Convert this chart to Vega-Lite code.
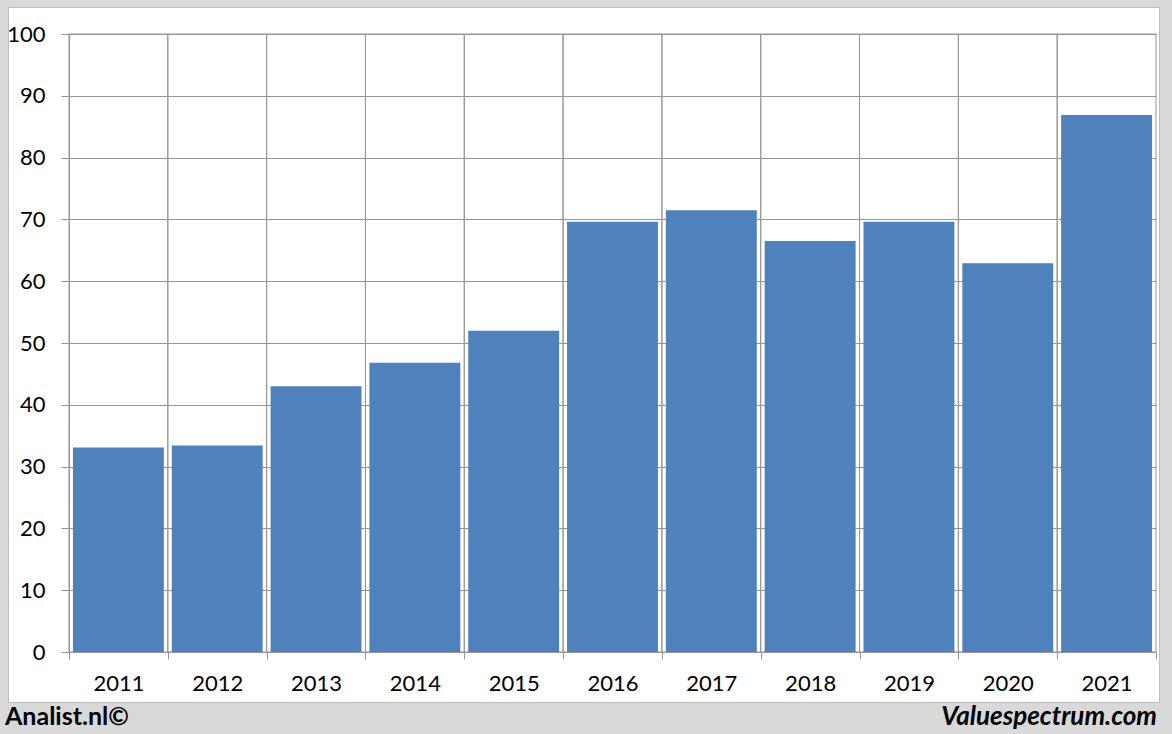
{
  "$schema": "https://vega.github.io/schema/vega-lite/v6.json",
  "background": "#d9d9d9",
  "padding": {"left": 5, "top": 6, "right": 13, "bottom": 0},
  "spacing": 0,
  "config": {"view": {"stroke": null}, "font": "Lato"},
  "vconcat": [
    {
      "width": 1151,
      "height": 695,
      "view": {"fill": "white", "stroke": "#bdbdbd"},
      "data": {
        "values": [
          {"year": "2011", "value": 33.1},
          {"year": "2012", "value": 33.4},
          {"year": "2013", "value": 43.0},
          {"year": "2014", "value": 46.8},
          {"year": "2015", "value": 52.0},
          {"year": "2016", "value": 69.6},
          {"year": "2017", "value": 71.5},
          {"year": "2018", "value": 66.5},
          {"year": "2019", "value": 69.6},
          {"year": "2020", "value": 62.9},
          {"year": "2021", "value": 86.9}
        ]
      },
      "encoding": {
        "x": {
          "field": "year",
          "type": "ordinal",
          "scale": {"range": [61, 1148], "paddingInner": 0, "paddingOuter": 0},
          "axis": {
            "title": null,
            "offset": -50,
            "tickBand": "extent",
            "grid": false,
            "domainColor": "#969696",
            "tickColor": "#969696",
            "tickSize": 7,
            "labelPadding": 14,
            "labelFontSize": 22,
            "labelColor": "black",
            "labelAngle": 0,
            "labelFont": "Lato"
          }
        }
      },
      "layer": [
        {
          "mark": {"type": "bar", "fill": null, "fillOpacity": 0, "stroke": "#969696", "strokeWidth": 1, "width": {"band": 1}},
          "encoding": {
            "y": {
              "datum": 0,
              "type": "quantitative",
              "scale": {"domain": [0, 100], "range": [645, 27], "nice": false, "zero": true},
              "axis": {
                "title": null,
                "offset": -61,
                "values": [0, 10, 20, 30, 40, 50, 60, 70, 80, 90, 100],
                "grid": true,
                "gridColor": "#969696",
                "gridOpacity": 1,
                "domainColor": "#969696",
                "tickColor": "#969696",
                "tickSize": 8,
                "labelPadding": 16,
                "labelFontSize": 22,
                "labelColor": "black",
                "labelFont": "Lato"
              }
            },
            "y2": {"datum": 100}
          }
        },
        {
          "mark": {"type": "bar", "color": "#4f81bd", "width": {"band": 0.92}},
          "encoding": {
            "y": {
              "field": "value",
              "type": "quantitative",
              "scale": {"domain": [0, 100], "range": [645, 27], "nice": false, "zero": true},
              "axis": {
                "title": null,
                "offset": -61,
                "values": [0, 10, 20, 30, 40, 50, 60, 70, 80, 90, 100],
                "grid": true,
                "gridColor": "#969696",
                "gridOpacity": 1,
                "domainColor": "#969696",
                "tickColor": "#969696",
                "tickSize": 8,
                "labelPadding": 16,
                "labelFontSize": 22,
                "labelColor": "black",
                "labelFont": "Lato"
              }
            }
          }
        }
      ]
    },
    {
      "width": 1151,
      "height": 32,
      "view": {"stroke": null},
      "data": {
        "values": [
          {"side": "left", "label": "Analist.nl©"},
          {"side": "right", "label": "Valuespectrum.com"}
        ]
      },
      "layer": [
        {
          "transform": [{"filter": "datum.side === 'left'"}],
          "mark": {"type": "text", "align": "left", "baseline": "middle", "fontWeight": "bold", "fontSize": 25, "dx": -3, "dy": -2, "font": "Lato", "color": "black"},
          "encoding": {
            "x": {"field": "side", "type": "nominal", "scale": {"type": "point", "domain": ["left", "right"], "padding": 0}, "axis": null},
            "text": {"field": "label"}
          }
        },
        {
          "transform": [{"filter": "datum.side === 'right'"}],
          "mark": {"type": "text", "align": "right", "baseline": "middle", "fontWeight": "bold", "fontStyle": "italic", "fontSize": 26, "dx": -2, "dy": -2, "font": "Lato", "color": "black"},
          "encoding": {
            "x": {"field": "side", "type": "nominal", "scale": {"type": "point", "domain": ["left", "right"], "padding": 0}, "axis": null},
            "text": {"field": "label"}
          }
        }
      ]
    }
  ]
}
